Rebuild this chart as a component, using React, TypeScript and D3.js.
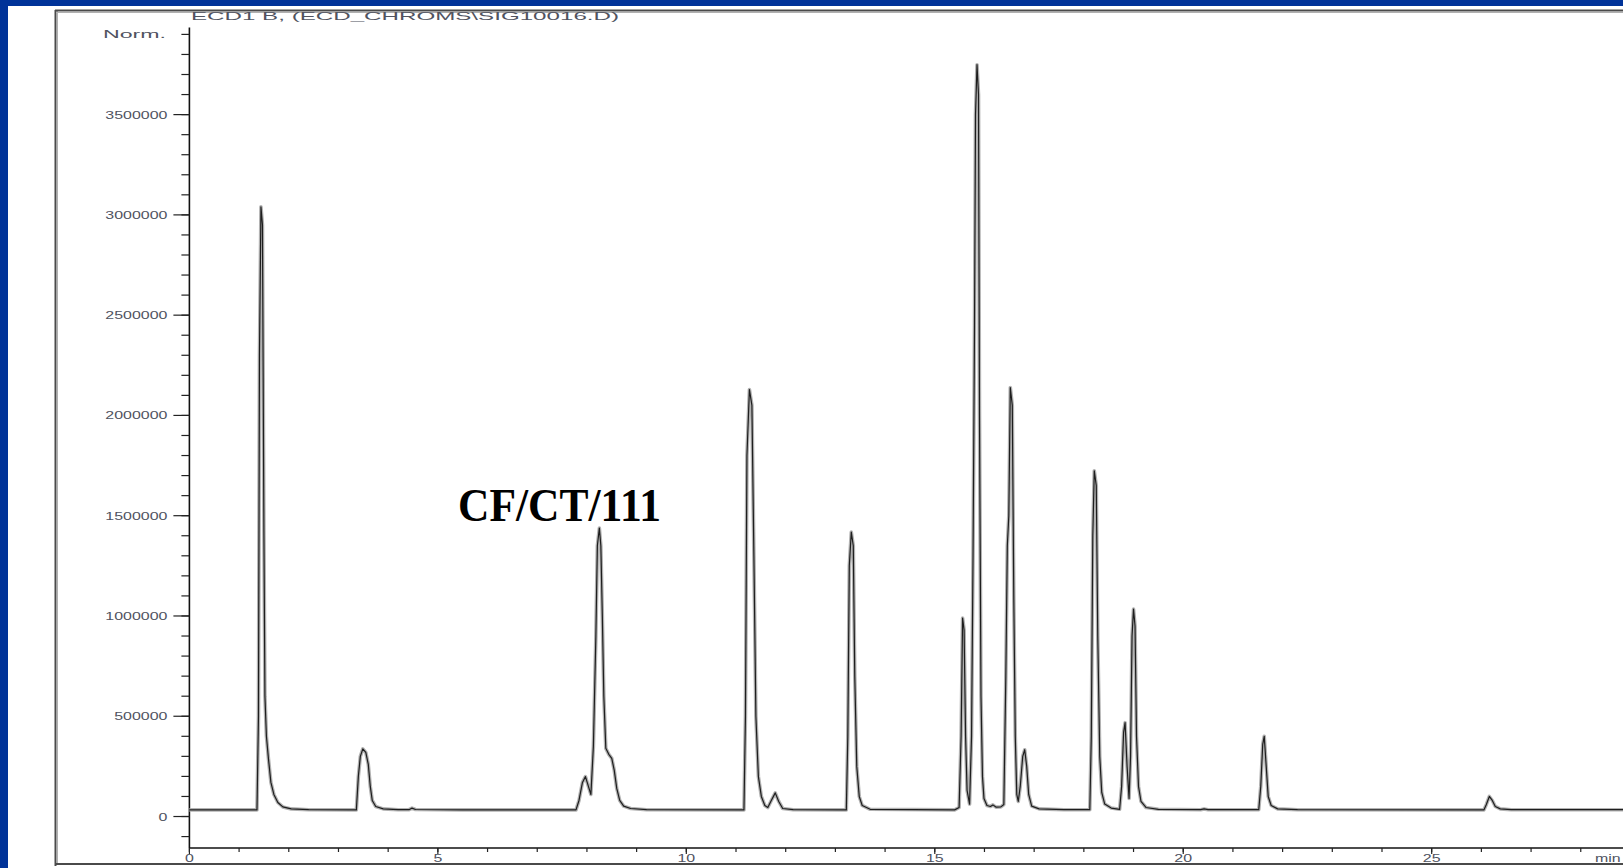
import React from "react";
import * as d3 from "d3";

// ---- data (retention time in min, detector signal) ----
const timeMin: number[] = [
  0, 1.36, 1.39, 1.41, 1.44, 1.47, 1.50, 1.52, 1.55, 1.59, 1.64, 1.70, 1.78, 1.88, 2.05, 2.4,
  3.36, 3.40, 3.44, 3.49, 3.55, 3.60, 3.64, 3.68, 3.75, 3.90, 4.2, 4.42, 4.48, 4.55, 5.5,
  7.78, 7.84, 7.91, 7.97, 8.03, 8.08, 8.13, 8.18, 8.21, 8.25, 8.28, 8.31, 8.34, 8.38, 8.44, 8.50,
  8.55, 8.60, 8.66, 8.74, 8.88, 9.2,
  11.16, 11.19, 11.22, 11.27, 11.32, 11.36, 11.40, 11.45, 11.51, 11.58, 11.64, 11.71, 11.79, 11.86,
  11.94, 12.15,
  13.22, 13.25, 13.28, 13.32, 13.36, 13.39, 13.43, 13.48, 13.54, 13.7,
  15.40, 15.49, 15.53, 15.56, 15.59, 15.62, 15.65, 15.70, 15.74, 15.77, 15.80, 15.82, 15.85, 15.88,
  15.90, 15.93, 15.96, 15.99, 16.05, 16.12, 16.17, 16.23, 16.33, 16.39, 16.43, 16.46, 16.49, 16.52,
  16.56, 16.59, 16.62, 16.65, 16.68, 16.72, 16.77, 16.81, 16.85, 16.89, 16.95, 17.1, 17.6,
  18.12, 18.15, 18.18, 18.21, 18.25, 18.28, 18.32, 18.36, 18.42, 18.55, 18.72, 18.76, 18.80, 18.83,
  18.87, 18.91, 18.94, 18.97, 19.00, 19.03, 19.06, 19.10, 19.15, 19.25, 19.5,
  20.35, 20.42, 20.5,
  21.52, 21.56, 21.60, 21.63, 21.67, 21.71, 21.77, 21.9, 22.3,
  26.05, 26.10, 26.16, 26.22, 26.28, 26.38, 26.6, 29.0,
];

const signalNorm: number[] = [
  33000, 33000, 500000, 2300000, 3040000, 2950000, 1400000, 600000, 400000, 290000, 170000, 110000, 70000, 48000, 38000, 34000,
  33000, 200000, 300000, 337000, 320000, 260000, 150000, 80000, 50000, 38000, 34000, 34000, 42000, 35000, 33000,
  33000, 80000, 170000, 199000, 150000, 110000, 350000, 900000, 1350000, 1438000, 1350000, 1000000, 600000, 340000, 310000, 290000,
  230000, 140000, 80000, 52000, 40000, 34000,
  33000, 500000, 1800000, 2129000, 2050000, 1300000, 500000, 200000, 100000, 55000, 45000, 80000, 118000, 75000,
  40000, 34000,
  33000, 400000, 1250000, 1418000, 1350000, 700000, 250000, 100000, 55000, 36000,
  33000, 45000, 400000, 990000, 930000, 400000, 130000, 62000, 400000, 1300000, 2450000, 3500000, 3749000, 3600000,
  2000000, 600000, 200000, 90000, 55000, 50000, 58000, 47000, 48000, 60000, 700000, 1350000, 1500000, 2139000,
  2050000, 1100000, 400000, 110000, 75000, 150000, 300000, 333000, 250000, 110000, 52000, 38000, 34000,
  34000, 400000, 1400000, 1724000, 1650000, 900000, 300000, 120000, 62000, 42000, 36000, 150000, 420000, 468000,
  250000, 90000, 300000, 900000, 1034000, 950000, 400000, 150000, 75000, 45000, 36000,
  34000, 38000, 34000,
  34000, 150000, 360000, 400000, 250000, 100000, 55000, 38000, 34000,
  33000, 60000, 100000, 80000, 50000, 38000, 34000, 34000,
];

const yMajorTicks: number[] = [0, 500000, 1000000, 1500000, 2000000, 2500000, 3000000, 3500000];
const yMinorTicks: number[] = d3.range(-100000, 3900001, 100000);
const xMajorTicks: number[] = [0, 5, 10, 15, 20, 25];
const xMinorTicks: number[] = d3.range(0, 29, 1);

const titleText = "ECD1 B,  (ECD_CHROMS\\SIG10016.D)";
const yUnitText = "Norm.";
const xUnitText = "min";
const annotationText = "CF/CT/111";

const W = 1623;
const H = 868;
const sans = "'Liberation Sans', Arial, sans-serif";
const labelColor = "#50535f";

function SText(props: {
  x: number; y: number; sx: number; anchor?: string; size?: number; fill?: string; children: React.ReactNode;
}) {
  const { x, y, sx, anchor = "start", size = 11, fill = labelColor, children } = props;
  return (
    <text
      transform={`translate(${x},${y}) scale(${sx},1)`}
      textAnchor={anchor}
      fontFamily={sans}
      fontSize={size}
      fill={fill}
    >
      {children}
    </text>
  );
}

export default function App() {
  const x = d3.scaleLinear().domain([0, 28.85]).range([189.4, 1623]);
  const y = d3.scaleLinear().domain([-157000, 3900000]).range([848, 34.4]);

  const pts: [number, number][] = timeMin.map((t, i) => [t, signalNorm[i]]);
  const line = d3
    .line<[number, number]>()
    .x((d) => x(d[0]))
    .y((d) => y(d[1]));
  const pathD = line(pts) || "";

  const axisX = x(0);
  const axisY = y(-157000);

  return (
    <svg
      width={W}
      height={H}
      viewBox={`0 0 ${W} ${H}`}
      style={{ position: "fixed", left: 0, top: 0, display: "block" }}
    >
      {/* slide background */}
      <rect x={0} y={0} width={W} height={H} fill="#003399" />
      <rect x={8} y={6} width={W - 8} height={H - 6} fill="#ffffff" />

      {/* report frame */}
      <line x1={55.5} x2={55.5} y1={10} y2={866} stroke="#4a4a4a" strokeWidth={2} />
      <line x1={57.5} x2={57.5} y1={11} y2={864} stroke="#b0b0b0" strokeWidth={1} />
      <line x1={55} x2={W} y1={10.5} y2={10.5} stroke="#4a4a4a" strokeWidth={2} />
      <line x1={56} x2={W} y1={12.5} y2={12.5} stroke="#b0b0b0" strokeWidth={1} />
      <line x1={55} x2={W} y1={864} y2={864} stroke="#4a4a4a" strokeWidth={2} />

      {/* title */}
      <text
        x={191}
        y={20}
        fontFamily={sans}
        fontSize={11}
        fill={labelColor}
        textLength={428}
        lengthAdjust="spacingAndGlyphs"
      >
        {titleText}
      </text>

      {/* y axis */}
      <line x1={axisX} x2={axisX} y1={y(3935000)} y2={axisY} stroke="#111" strokeWidth={1.6} />
      {yMinorTicks.map((v) => (
        <line key={`ym${v}`} x1={axisX - 8} x2={axisX} y1={y(v)} y2={y(v)} stroke="#222" strokeWidth={1.2} />
      ))}
      {yMajorTicks.map((v) => (
        <g key={`yM${v}`}>
          <line x1={axisX - 16} x2={axisX} y1={y(v)} y2={y(v)} stroke="#222" strokeWidth={1.2} />
          <SText x={axisX - 22} y={y(v) + 4} sx={1.45} anchor="end">
            {String(v)}
          </SText>
        </g>
      ))}
      <text
        x={103}
        y={y(3900000) + 4}
        fontFamily={sans}
        fontSize={11}
        fill={labelColor}
        textLength={63}
        lengthAdjust="spacingAndGlyphs"
      >
        {yUnitText}
      </text>

      {/* x axis */}
      <line x1={axisX} x2={W} y1={axisY} y2={axisY} stroke="#111" strokeWidth={1.6} />
      {xMinorTicks.map((t) => (
        <line key={`xm${t}`} x1={x(t)} x2={x(t)} y1={axisY} y2={axisY + 4} stroke="#222" strokeWidth={1.2} />
      ))}
      {xMajorTicks.map((t) => (
        <g key={`xM${t}`}>
          <line x1={x(t)} x2={x(t)} y1={axisY} y2={axisY + 6} stroke="#222" strokeWidth={1.2} />
          <SText x={x(t)} y={862} sx={1.45} anchor="middle">
            {String(t)}
          </SText>
        </g>
      ))}
      <SText x={1595} y={862} sx={1.45}>
        {xUnitText}
      </SText>

      {/* chromatogram trace */}
      <path d={pathD} fill="none" stroke="#b2b2b2" strokeWidth={3.6} strokeLinejoin="round" />
      <path d={pathD} fill="none" stroke="#1e1e1e" strokeWidth={1.2} strokeLinejoin="round" />

      {/* annotation */}
      <text
        x={458}
        y={521}
        fontFamily="'Liberation Serif', 'Times New Roman', serif"
        fontWeight="bold"
        fontSize={46}
        fill="#000"
        textLength={203}
        lengthAdjust="spacingAndGlyphs"
      >
        {annotationText}
      </text>
    </svg>
  );
}
